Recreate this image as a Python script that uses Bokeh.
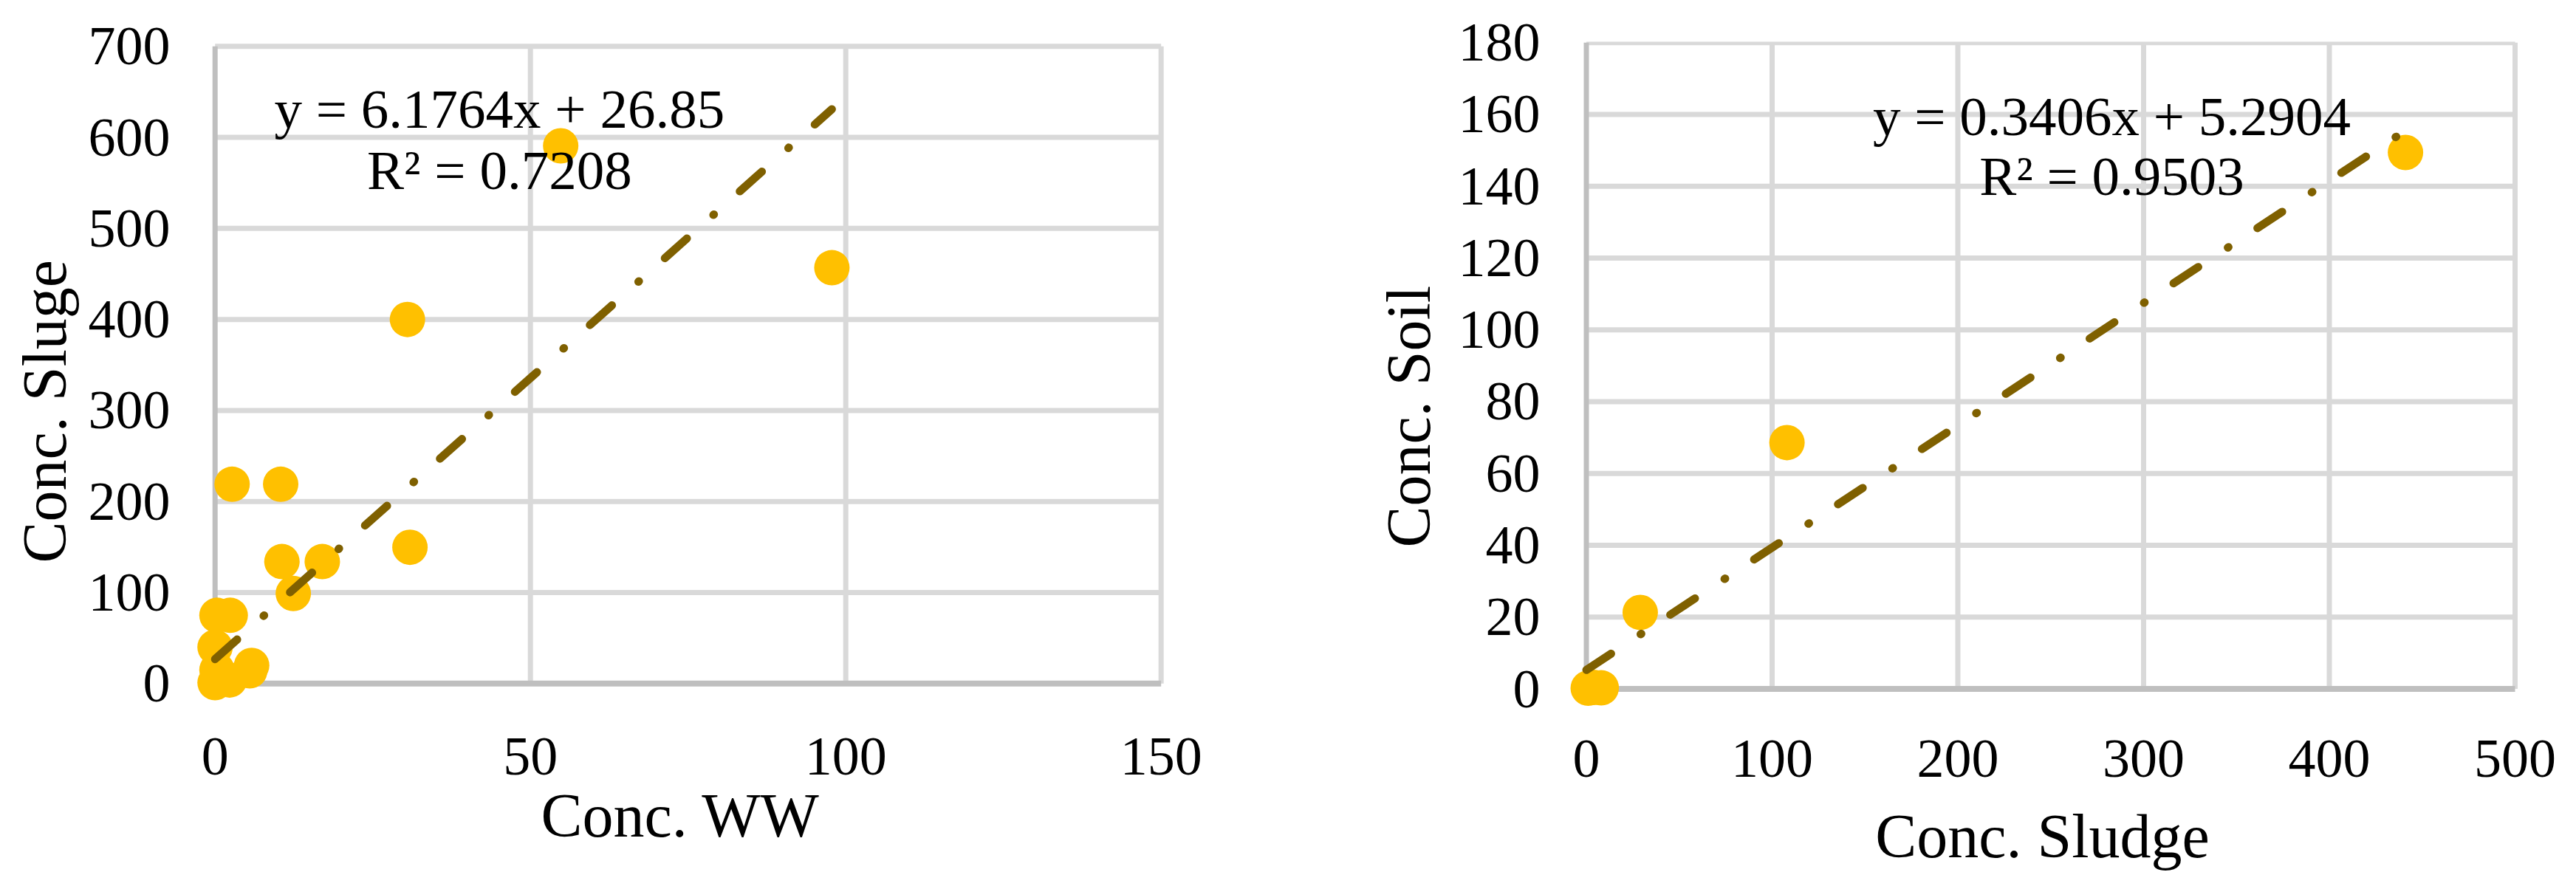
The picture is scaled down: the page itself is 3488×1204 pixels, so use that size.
from bokeh.plotting import figure
from bokeh.layouts import row
from bokeh.models import Label, Range1d, FixedTicker, Title
from bokeh.embed import file_html
from bokeh.resources import INLINE

# ---------------- data ----------------
# Left panel: Conc. WW (x) vs Conc. Sluge (y)
ww_x = [54.8, 97.8, 30.5, 2.7, 10.4, 10.6, 17.0, 30.9, 12.4, 0.3, 2.4, 0.0, 5.8, 5.5, 0.3, 0.0, 2.3, 1.0]
sluge_y = [590.7, 456.8, 400.0, 219.0, 219.0, 134.0, 134.0, 149.8, 99.0, 75.0, 75.0, 40.0, 20.0, 14.0, 15.0, 1.0, 4.0, 8.0]
left_slope = 6.1764
left_intercept = 26.85
left_eq = "y = 6.1764x + 26.85"
left_r2 = "R² = 0.7208"
left_xticks = [0, 50, 100, 150]
left_yticks = [0, 100, 200, 300, 400, 500, 600, 700]
left_xlabel = "Conc. WW"
left_ylabel = "Conc. Sluge"

# Right panel: Conc. Sludge (x) vs Conc. Soil (y)
sludge_x = [1.0, 4.0, 8.0, 29.0, 108.0, 441.0]
soil_y = [0.2, 0.4, 0.3, 21.3, 68.6, 149.4]
right_slope = 0.3406
right_intercept = 5.2904
right_eq = "y = 0.3406x + 5.2904"
right_r2 = "R² = 0.9503"
right_xticks = [0, 100, 200, 300, 400, 500]
right_yticks = [0, 20, 40, 60, 80, 100, 120, 140, 160, 180]
right_xlabel = "Conc. Sludge"
right_ylabel = "Conc. Soil"

# ---------------- style ----------------
FONT = "Liberation Serif"
GRID = "#D9D9D9"
AXIS = "#BFBFBF"
MARK = "#FFC000"
TREND = "#7F6000"
TICK_SIZE = "74px"
EQ_SIZE = "75px"
TITLE_SIZE = "84px"


def panel(xs, ys, slope, intercept, eq, r2, xticks, yticks, xlabel, ylabel,
          xr, yr, w, h, borders, xstand, ystand, xl_stand, yl_offset, yl_stand,
          eq_pos):
    p = figure(width=w, height=h, x_range=Range1d(*xr), y_range=Range1d(*yr),
               output_backend="svg", toolbar_location=None,
               min_border_left=borders[0], min_border_right=borders[1],
               min_border_top=borders[2], min_border_bottom=borders[3])
    p.outline_line_color = None
    p.grid.visible = False
    p.background_fill_color = "white"
    p.border_fill_color = "white"

    xmax, ymax = xticks[-1], yticks[-1]
    # gridlines drawn from the tick values
    vx = xticks[1:]
    p.segment(x0=vx, y0=[0] * len(vx), x1=vx, y1=[ymax] * len(vx),
              line_color=GRID, line_width=7)
    hy = yticks[1:]
    p.segment(x0=[0] * len(hy), y0=hy, x1=[xmax] * len(hy), y1=hy,
              line_color=GRID, line_width=7)
    # axis lines
    p.segment(x0=[0], y0=[0], x1=[0], y1=[ymax], line_color=AXIS, line_width=7)
    p.segment(x0=[0], y0=[0], x1=[xmax], y1=[0], line_color=AXIS, line_width=8)

    # points
    p.scatter(xs, ys, size=48, fill_color=MARK, line_color=None)

    # linear trendline from the fitted equation
    tx = [0, max(xs)]
    ty = [intercept + slope * v for v in tx]
    p.line(tx, ty, line_color=TREND, line_width=11, line_dash="40 48 1 47",
           line_cap="round")

    for ax, ticks in ((p.xaxis[0], xticks), (p.yaxis[0], yticks)):
        ax.ticker = FixedTicker(ticks=ticks)
        ax.axis_line_color = None
        ax.major_tick_line_color = None
        ax.minor_tick_line_color = None
        ax.major_tick_out = 0
        ax.major_tick_in = 0
        ax.major_label_text_font = FONT
        ax.major_label_text_font_size = TICK_SIZE
        ax.major_label_text_color = "black"
    p.xaxis[0].major_label_standoff = xstand
    p.yaxis[0].major_label_standoff = ystand

    p.xaxis[0].axis_label = xlabel
    p.xaxis[0].axis_label_text_font = FONT
    p.xaxis[0].axis_label_text_font_size = TITLE_SIZE
    p.xaxis[0].axis_label_text_font_style = "normal"
    p.xaxis[0].axis_label_text_color = "black"
    p.xaxis[0].axis_label_standoff = xl_stand

    p.add_layout(Title(text=ylabel, align="left", vertical_align="bottom",
                       offset=yl_offset, standoff=yl_stand, text_font=FONT,
                       text_font_size=TITLE_SIZE, text_font_style="normal",
                       text_color="black"), "left")

    for txt, (x, y) in ((eq, eq_pos[0]), (r2, eq_pos[1])):
        p.add_layout(Label(x=x, y=y, text=txt, text_font=FONT, text_font_size=EQ_SIZE,
                           text_color="black", text_align="center",
                           text_baseline="alphabetic"))
    return p


left = panel(ww_x, sluge_y, left_slope, left_intercept, left_eq, left_r2,
             left_xticks, left_yticks, left_xlabel, left_ylabel,
             xr=(-3.48, 151.09), yr=(-24.87, 705.05), w=1800, h=1204,
             borders=(261, 219, 56, 238), xstand=43, ystand=31, xl_stand=6,
             yl_offset=194, yl_stand=20,
             eq_pos=((45.1, 631.0), (45.1, 564.2)))

right = panel(sludge_x, soil_y, right_slope, right_intercept, right_eq, right_r2,
              right_xticks, right_yticks, right_xlabel, right_ylabel,
              xr=(-12.13, 503.18), yr=(-4.83, 180.25), w=1688, h=1204,
              borders=(317, 75, 48, 248), xstand=46, ystand=32, xl_stand=31,
              yl_offset=215, yl_stand=36,
              eq_pos=((282.9, 159.5), (282.9, 142.8)))

layout = row(left, right)
open("out.html", "w").write(file_html(layout, INLINE))
